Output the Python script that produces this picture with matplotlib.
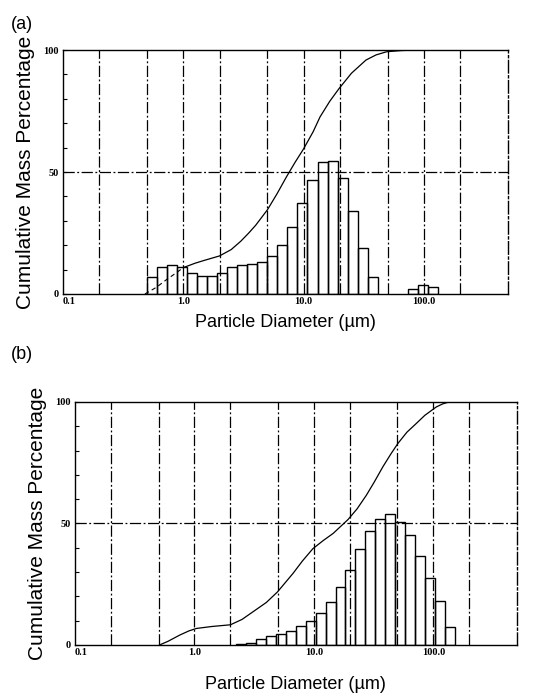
import numpy as np
import matplotlib
matplotlib.use("Agg")
import matplotlib.pyplot as plt

plt.rcParams['font.family'] = ['Liberation Sans', 'DejaVu Sans']

# size classes: 12 per decade, starting at bin_start (um)
bins_per_decade = 12

a_bin_start = 0.5
a_heights = [7.0, 11.0, 12.0, 11.0, 8.8, 7.2, 7.2, 8.8, 10.9, 11.7, 12.4, 13.3,
             15.7, 19.9, 27.6, 37.4, 46.8, 54.0, 54.7, 47.7, 34.0, 19.0, 7.0,
             0, 0, 0, 2.2, 3.8, 2.7]
a_curve_d = [0.48, 0.6, 0.73, 0.87, 1.0, 1.25, 1.5, 2.0, 2.5, 3.0, 3.5, 4.0, 5.0,
             6.0, 7.2, 8.5, 10.0, 12.0, 13.7, 16.5, 19.7, 25.0, 33.0, 40.0, 49.0,
             65.0, 87.0, 500.0]
a_curve_p = [0, 2.8, 6.0, 8.6, 10.8, 12.6, 13.8, 15.6, 18.2, 21.6, 25.0, 28.2, 34.5,
             41.0, 48.0, 54.0, 59.5, 66.5, 72.6, 79.0, 84.2, 90.5, 95.9, 98.0, 99.3,
             99.8, 100, 100]
a_dashed_until = 1.0

b_bin_start = 0.48
b_heights = [0, 0, 0, 0, 0, 0, 0, 0, 0.3, 1.0, 2.3, 3.7, 4.6, 5.9, 7.6, 9.9, 13.1,
             17.5, 23.7, 31.0, 39.6, 47.0, 51.8, 53.9, 50.7, 45.2, 36.5, 27.6,
             18.0, 7.2]
b_curve_d = [0.51, 0.6, 0.755, 0.9, 1.04, 1.4, 2.0, 2.5, 3.1, 4.0, 4.95, 6.7, 8.0,
             9.8, 12.0, 14.5, 19.3, 23.0, 27.5, 32.0, 37.8, 44.0, 50.5, 60.0, 71.9,
             85.0, 105.7, 120.0, 136.0, 500.0]
b_curve_p = [0, 1.5, 4.1, 5.8, 6.8, 7.6, 8.3, 10.5, 13.7, 17.5, 21.8, 29.5, 34.5,
             39.6, 43.0, 45.9, 51.6, 56.0, 61.6, 67.0, 73.3, 78.5, 82.9, 87.5, 91.1,
             94.5, 97.9, 99.2, 100, 100]

grid_x = [0.2, 0.5, 1, 2, 5, 10, 20, 50, 100, 200]
xtick_vals = [0.1, 1, 10, 100]
xtick_text = ["0.1", "1.0", "10.0", "100.0"]
ytick_vals = [0, 50, 100]
ytick_text = ["0", "50", "100"]

dashdot = (0, (9, 2, 1.5, 2))


def panel(ax, bin_start, heights, cd, cp, dashed_until=None, xpad=8):
    n = len(heights)
    edges = bin_start * 10 ** (np.arange(n + 1) / bins_per_decade)
    h = np.array(heights)
    keep = h > 0
    ax.bar(edges[:-1][keep], h[keep], width=(edges[1:] - edges[:-1])[keep],
           align='edge', fill=False, edgecolor='black', linewidth=1.0, zorder=3)

    for g in grid_x:
        ax.axvline(g, color='black', lw=0.9, ls=dashdot, zorder=1)
    ax.axhline(50, color='black', lw=0.9, ls=dashdot, zorder=1)

    cd = np.array(cd)
    cp = np.array(cp)
    if dashed_until is not None:
        i = np.searchsorted(cd, dashed_until)
        ax.plot(cd[:i + 1], cp[:i + 1], color='black', lw=0.8, ls=(0, (4, 3)), zorder=4)
        ax.plot(cd[i:], cp[i:], color='black', lw=0.9, zorder=4)
    else:
        ax.plot(cd, cp, color='black', lw=0.9, zorder=4)

    ax.set_xscale('log')
    ax.set_xlim(0.1, 500)
    ax.set_ylim(0, 100)
    ax.set_xticks(xtick_vals)
    ax.set_xticklabels(xtick_text, family='Liberation Serif', fontsize=7.5,
                       fontweight='bold')
    ax.xaxis.set_minor_locator(matplotlib.ticker.NullLocator())
    ax.tick_params(axis='x', length=0, pad=2)
    for lab in ax.get_xticklabels()[:1]:
        lab.set_ha('left')
    ax.set_yticks(ytick_vals)
    ax.set_yticklabels(ytick_text, family='Liberation Serif', fontsize=7.5,
                       fontweight='bold')
    ax.set_yticks(np.arange(0, 101, 10), minor=True)
    ax.tick_params(axis='y', which='both', direction='in', length=3, width=0.8, pad=3)
    ax.spines['right'].set_linestyle(dashdot)
    for s in ax.spines.values():
        s.set_linewidth(1.0)
    ax.set_xlabel("Particle Diameter (µm)", fontsize=13, labelpad=xpad)
    ax.set_ylabel("Cumulative Mass Percentage", fontsize=15, labelpad=6)


fig = plt.figure(figsize=(5.4, 6.95), dpi=100)
ax_a = fig.add_axes([0.1167, 0.577, 0.824, 0.351])
ax_b = fig.add_axes([0.139, 0.072, 0.818, 0.3497])

panel(ax_a, a_bin_start, a_heights, a_curve_d, a_curve_p, a_dashed_until, xpad=6)
panel(ax_b, b_bin_start, b_heights, b_curve_d, b_curve_p, xpad=14)

fig.text(0.02, 0.965, "(a)", fontsize=13, va='center')
fig.text(0.02, 0.49, "(b)", fontsize=13, va='center')

fig.savefig("out.png", dpi=100)
